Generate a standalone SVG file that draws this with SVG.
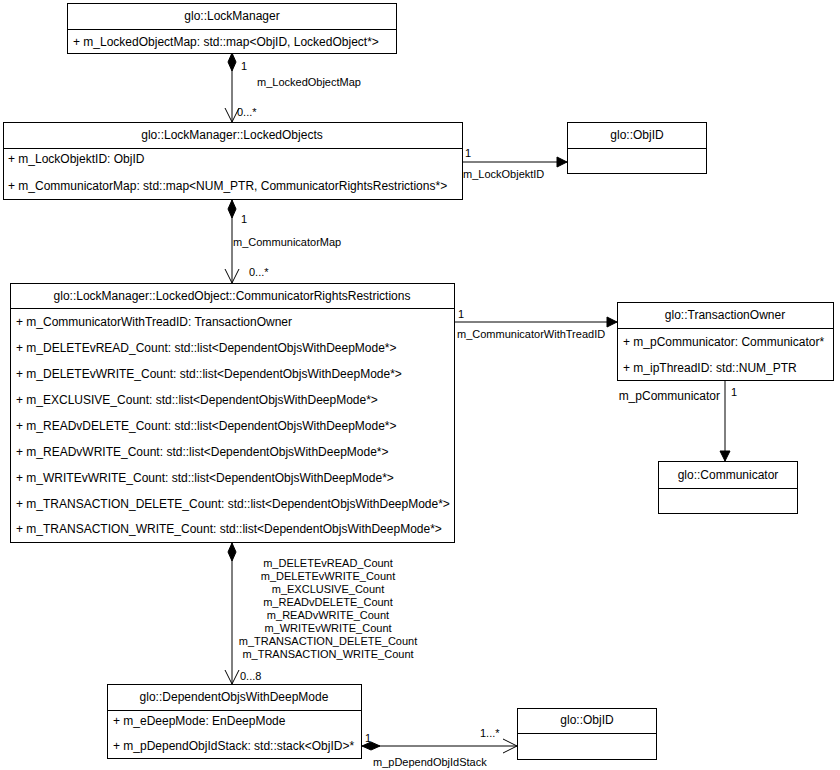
<svg xmlns="http://www.w3.org/2000/svg" width="840" height="770" viewBox="0 0 840 770">
<defs>
<style>
text{font-family:"Liberation Sans",Arial,sans-serif;font-size:12px;fill:#000}
.box{fill:#fff;stroke:#000;stroke-width:1}
.hd{text-anchor:middle}
.lbl{font-size:11px}
.ml{font-size:11px;text-anchor:middle}
.ln{stroke:#000;stroke-width:1;fill:none}
</style>
<marker id="open" viewBox="0 0 16 16" refX="15" refY="8" markerWidth="16" markerHeight="16" markerUnits="userSpaceOnUse" orient="auto"><path d="M1,1 L15,8 L1,15" fill="none" stroke="#000"/></marker>
<marker id="fill" viewBox="0 0 12 12" refX="11" refY="6" markerWidth="12" markerHeight="12" markerUnits="userSpaceOnUse" orient="auto"><path d="M1,1 L11,6 L1,11 Z" fill="#000" stroke="#000"/></marker>
<marker id="dia" viewBox="0 0 20 10" refX="1" refY="5" markerWidth="20" markerHeight="10" markerUnits="userSpaceOnUse" orient="auto"><path d="M1,5 L10,1 L19,5 L10,9 Z" fill="#000" stroke="#000"/></marker>
</defs>
<g id="connectors">
<path class="ln" d="M232,53 L232,122" marker-start="url(#dia)" marker-end="url(#open)"/>
<text x="241" y="70" class="lbl">1</text>
<text x="257" y="86" class="lbl">m_LockedObjectMap</text>
<text x="237" y="116" class="lbl">0...*</text>
<path class="ln" d="M232,200 L232,283" marker-start="url(#dia)" marker-end="url(#open)"/>
<text x="241" y="223" class="lbl">1</text>
<text x="233" y="246" class="lbl">m_CommunicatorMap</text>
<text x="249" y="276" class="lbl">0...*</text>
<path class="ln" d="M462,162 L567,162" marker-end="url(#fill)"/>
<text x="465" y="157" class="lbl">1</text>
<text x="463" y="178" class="lbl">m_LockObjektID</text>
<path class="ln" d="M454,322 L617,322" marker-end="url(#fill)"/>
<text x="458" y="318" class="lbl">1</text>
<text x="457" y="338" class="lbl">m_CommunicatorWithTreadID</text>
<path class="ln" d="M725,381 L725,461" marker-end="url(#fill)"/>
<text x="731" y="396" class="lbl">1</text>
<text x="720" y="400" text-anchor="end">m_pCommunicator</text>
<path class="ln" d="M232,543 L232,684" marker-start="url(#dia)" marker-end="url(#open)"/>
<text x="328" y="567" class="ml">m_DELETEvREAD_Count</text>
<text x="328" y="580" class="ml">m_DELETEvWRITE_Count</text>
<text x="328" y="593" class="ml">m_EXCLUSIVE_Count</text>
<text x="328" y="606" class="ml">m_READvDELETE_Count</text>
<text x="328" y="619" class="ml">m_READvWRITE_Count</text>
<text x="328" y="632" class="ml">m_WRITEvWRITE_Count</text>
<text x="328" y="645" class="ml">m_TRANSACTION_DELETE_Count</text>
<text x="328" y="658" class="ml">m_TRANSACTION_WRITE_Count</text>
<text x="240" y="680" class="lbl">0...8</text>
<path class="ln" d="M362,746 L517,746" marker-start="url(#dia)" marker-end="url(#open)"/>
<text x="365" y="742" class="lbl">1</text>
<text x="480" y="737" class="lbl">1...*</text>
<text x="373" y="766" class="lbl">m_pDependObjIdStack</text>
</g>
<g id="LockManager">
<rect class="box" x="67.5" y="3.5" width="329" height="50"/>
<line class="ln" x1="67.5" y1="29.5" x2="396.5" y2="29.5"/>
<text x="232" y="20" class="hd">glo::LockManager</text>
<text x="73" y="46">+ m_LockedObjectMap: std::map&lt;ObjID, LockedObject*&gt;</text>
</g>
<g id="LockedObjects">
<rect class="box" x="3.5" y="122.5" width="459" height="77"/>
<line class="ln" x1="3.5" y1="148.5" x2="462.5" y2="148.5"/>
<text x="232" y="139" class="hd">glo::LockManager::LockedObjects</text>
<text x="8" y="163">+ m_LockObjektID: ObjID</text>
<text x="8" y="190">+ m_CommunicatorMap: std::map&lt;NUM_PTR, CommunicatorRightsRestrictions*&gt;</text>
</g>
<g id="ObjID1">
<rect class="box" x="567.5" y="122.5" width="139" height="51"/>
<line class="ln" x1="567.5" y1="148.5" x2="706.5" y2="148.5"/>
<text x="637" y="139" class="hd">glo::ObjID</text>
</g>
<g id="CommunicatorRightsRestrictions">
<rect class="box" x="10.5" y="283.5" width="444" height="259"/>
<line class="ln" x1="10.5" y1="308.5" x2="454.5" y2="308.5"/>
<text x="232" y="300" class="hd">glo::LockManager::LockedObject::CommunicatorRightsRestrictions</text>
<text x="16" y="326">+ m_CommunicatorWithTreadID: TransactionOwner</text>
<text x="16" y="352">+ m_DELETEvREAD_Count: std::list&lt;DependentObjsWithDeepMode*&gt;</text>
<text x="16" y="378">+ m_DELETEvWRITE_Count: std::list&lt;DependentObjsWithDeepMode*&gt;</text>
<text x="16" y="404">+ m_EXCLUSIVE_Count: std::list&lt;DependentObjsWithDeepMode*&gt;</text>
<text x="16" y="430">+ m_READvDELETE_Count: std::list&lt;DependentObjsWithDeepMode*&gt;</text>
<text x="16" y="456">+ m_READvWRITE_Count: std::list&lt;DependentObjsWithDeepMode*&gt;</text>
<text x="16" y="482">+ m_WRITEvWRITE_Count: std::list&lt;DependentObjsWithDeepMode*&gt;</text>
<text x="16" y="508">+ m_TRANSACTION_DELETE_Count: std::list&lt;DependentObjsWithDeepMode*&gt;</text>
<text x="16" y="533">+ m_TRANSACTION_WRITE_Count: std::list&lt;DependentObjsWithDeepMode*&gt;</text>
</g>
<g id="TransactionOwner">
<rect class="box" x="617.5" y="302.5" width="216" height="78"/>
<line class="ln" x1="617.5" y1="328.5" x2="833.5" y2="328.5"/>
<text x="725" y="319" class="hd">glo::TransactionOwner</text>
<text x="623" y="346">+ m_pCommunicator: Communicator*</text>
<text x="623" y="372">+ m_ipThreadID: std::NUM_PTR</text>
</g>
<g id="Communicator">
<rect class="box" x="658.5" y="461.5" width="139" height="52"/>
<line class="ln" x1="658.5" y1="488.5" x2="797.5" y2="488.5"/>
<text x="728" y="479" class="hd">glo::Communicator</text>
</g>
<g id="DependentObjsWithDeepMode">
<rect class="box" x="107.5" y="684.5" width="254" height="74"/>
<line class="ln" x1="107.5" y1="710.5" x2="361.5" y2="710.5"/>
<text x="234" y="701" class="hd">glo::DependentObjsWithDeepMode</text>
<text x="113" y="725">+ m_eDeepMode: EnDeepMode</text>
<text x="113" y="750">+ m_pDependObjIdStack: std::stack&lt;ObjID&gt;*</text>
</g>
<g id="ObjID2">
<rect class="box" x="517.5" y="708.5" width="139" height="51"/>
<line class="ln" x1="517.5" y1="733.5" x2="656.5" y2="733.5"/>
<text x="587" y="724" class="hd">glo::ObjID</text>
</g>
</svg>
